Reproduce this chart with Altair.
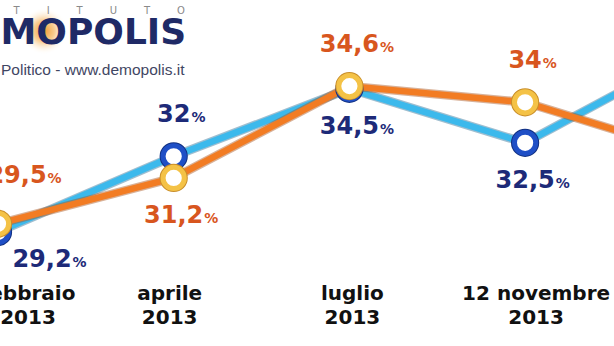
import altair as alt
import pandas as pd

# ---- data -------------------------------------------------------------
wave_top = ["febbraio", "aprile", "luglio", "12 novembre", "gennaio"]
wave_year = ["2013", "2013", "2013", "2013", "2014"]
series_names = ["Centrosinistra", "Centrodestra"]
centrosinistra = [29.5, 31.2, 34.6, 34.0, 32.0]
centrodestra = [29.2, 32.0, 34.5, 32.5, 36.0]

# ---- style ------------------------------------------------------------
W, H = 614, 346
STEP = 175.7          # px between two survey waves
X0 = -2.0             # px position of the first wave
PX_PER_PT = 27.0      # vertical px per percentage point
Y_REF_V, Y_REF_PX = 32.1875, 151.25

ORANGE_LINE, ORANGE_EDGE = "#F27C23", "#A9531A"
CYAN_LINE, CYAN_EDGE = "#3CB9EC", "#2A6F96"
ORANGE_RING, ORANGE_RING_EDGE = "#F4C246", "#C98E2A"
BLUE_RING, BLUE_RING_EDGE = "#1F4FC6", "#123182"
ORANGE_TEXT, NAVY_TEXT = "#D8561E", "#1D2A78"

VAL_FONT = 24
RING_SIZE = 450
ABOVE_DY, BELOW_DY = -34, 45
# label nudges (px) for the first wave, whose points sit on the left edge
label_nudge = {("Centrosinistra", 0): (19, -7), ("Centrodestra", 0): (44, -10)}
axis_nudge = [30, -4, 3, 11, 0]

x_scale = alt.Scale(domain=[(0 - X0) / STEP, (W - X0) / STEP], nice=False, zero=False)
y_scale = alt.Scale(
    domain=[Y_REF_V - (H - Y_REF_PX) / PX_PER_PT, Y_REF_V + Y_REF_PX / PX_PER_PT],
    nice=False, zero=False,
)

# ---- tables -----------------------------------------------------------
def fmt(v):
    return str(int(v)) if float(v).is_integer() else f"{v:.1f}".replace(".", ",")

rows = []
for name, vals, other in [
    ("Centrosinistra", centrosinistra, centrodestra),
    ("Centrodestra", centrodestra, centrosinistra),
]:
    for i, v in enumerate(vals):
        txt = fmt(v)
        ndig = sum(c.isdigit() for c in txt)
        ncom = txt.count(",")
        num_w = VAL_FONT * (0.696 * ndig + 0.38 * ncom)
        ndx, ndy = label_nudge.get((name, i), (0, 0))
        rows.append({
            "series": name, "i": i, "value": v, "label": txt,
            "side": "above" if v >= other[i] else "below",
            "lx": i + ndx / STEP,
            "px": i + (ndx + num_w / 2 + 1) / STEP,
            "lv": v - ndy / PX_PER_PT,
        })
df = pd.DataFrame(rows)

waves = pd.DataFrame({
    "i": list(range(len(wave_top))),
    "text": [f"{a}\n{b}" for a, b in zip(wave_top, wave_year)],
    "ax": [k + n / STEP for k, n in enumerate(axis_nudge)],
})

base = alt.Chart(df)
X = alt.X("i:Q", scale=x_scale, axis=None)
Y = alt.Y("value:Q", scale=y_scale, axis=None)
LY = alt.Y("lv:Q", scale=y_scale, axis=None)


def line_layers(name, line_col, edge_col):
    src = base.transform_filter(alt.datum.series == name)
    edge = src.mark_line(color=edge_col, strokeWidth=9, opacity=0.45,
                         strokeJoin="round").encode(x=X, y=Y, order="i:Q")
    line = src.mark_line(color=line_col, strokeWidth=6.5,
                         strokeJoin="round").encode(x=X, y=Y, order="i:Q")
    return edge, line


def ring_layers(name, ring_col, ring_edge):
    src = base.transform_filter(alt.datum.series == name)
    outer = src.mark_point(shape="circle", size=RING_SIZE, filled=False,
                           stroke=ring_edge, strokeWidth=7, opacity=1
                           ).encode(x=X, y=Y)
    ring = src.mark_point(shape="circle", size=RING_SIZE, fill="white", filled=True,
                          stroke=ring_col, strokeWidth=5, opacity=1
                          ).encode(x=X, y=Y)
    return outer, ring


def label_layers(name, color):
    out = []
    for side, dy in [("above", ABOVE_DY), ("below", BELOW_DY)]:
        src = base.transform_filter(
            (alt.datum.series == name) & (alt.datum.side == side)
        )
        num = src.mark_text(font="DejaVu Sans", fontWeight="bold", fontSize=VAL_FONT,
                            align="center", baseline="alphabetic", dy=dy,
                            color=color).encode(
            x=alt.X("lx:Q", scale=x_scale, axis=None), y=LY, text="label:N")
        pct = src.mark_text(font="DejaVu Sans", fontWeight="bold", fontSize=14,
                            align="left", baseline="alphabetic", dy=dy,
                            color=color).encode(
            x=alt.X("px:Q", scale=x_scale, axis=None), y=LY, text=alt.value("%"))
        out += [num, pct]
    return out


cy_edge, cy_line = line_layers("Centrodestra", CYAN_LINE, CYAN_EDGE)
or_edge, or_line = line_layers("Centrosinistra", ORANGE_LINE, ORANGE_EDGE)
bl_outer, bl_ring = ring_layers("Centrodestra", BLUE_RING, BLUE_RING_EDGE)
ye_outer, ye_ring = ring_layers("Centrosinistra", ORANGE_RING, ORANGE_RING_EDGE)

axis_labels = alt.Chart(waves).mark_text(
    font="DejaVu Sans", fontWeight="bold", fontSize=20, align="center",
    baseline="alphabetic", lineBreak="\n", lineHeight=24, color="#111111",
).encode(x=alt.X("ax:Q", scale=x_scale, axis=None), y=alt.value(300), text="text:N")

# ---- logo (top-left) --------------------------------------------------
logo = alt.Chart(pd.DataFrame({"k": [0]}))
glow = logo.mark_circle(
    size=2200,
    color=alt.RadialGradient(
        gradient="radial",
        stops=[
            alt.GradientStop(offset=0, color="rgba(240,150,40,0.95)"),
            alt.GradientStop(offset=0.45, color="rgba(245,170,70,0.6)"),
            alt.GradientStop(offset=1, color="rgba(255,255,255,0)"),
        ],
    ),
    opacity=1,
).encode(x=alt.value(44), y=alt.value(31))
istituto = logo.mark_text(
    font="DejaVu Sans", fontSize=10, align="right", baseline="alphabetic", color="#8A8A8A",
).encode(x=alt.value(185), y=alt.value(14),
         text=alt.value("\u2003\u2003\u2002\u2009".join("ISTITUTO")))
brand = logo.mark_text(
    font="DejaVu Sans", fontWeight="bold", fontSize=36, align="left",
    baseline="alphabetic", color="#1F2A66",
).encode(x=alt.value(-54), y=alt.value(44), text=alt.value("DEMOPOLIS"))
tagline = logo.mark_text(
    font="Liberation Sans", fontSize=15.5, align="left", baseline="alphabetic",
    color="#3F4663",
).encode(x=alt.value(1), y=alt.value(75), text=alt.value("Politico - www.demopolis.it"))

layers = [glow, istituto, brand, tagline,
          cy_edge, cy_line, or_edge, or_line,
          bl_outer, bl_ring, ye_outer, ye_ring]
layers += label_layers("Centrodestra", NAVY_TEXT)
layers += label_layers("Centrosinistra", ORANGE_TEXT)
layers += [axis_labels]

chart = alt.layer(*layers).properties(
    width=W, height=H, padding=0,
    autosize=alt.AutoSizeParams(type="none"),
    background="white",
).configure_view(strokeWidth=0)

chart.save("out.html", embed_options={"renderer": "svg", "actions": False})
